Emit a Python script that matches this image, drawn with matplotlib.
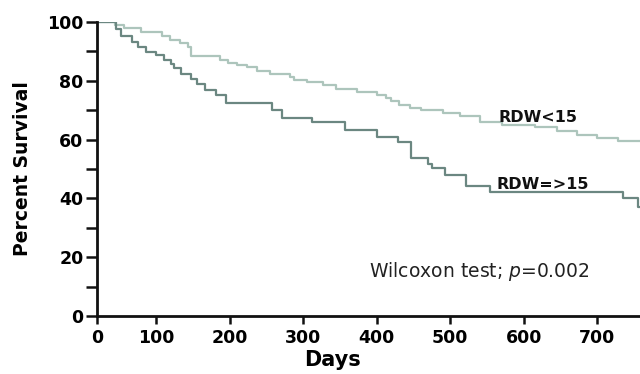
import matplotlib
matplotlib.use("Agg")
import matplotlib.pyplot as plt

# Kaplan-Meier steps (days, percent surviving after the step)
low_days = [0, 44, 56, 80, 108, 119, 133, 144, 148, 187, 198, 210, 223, 237, 255,
            282, 287, 305, 327, 345, 373, 400, 412, 420, 430, 445, 460, 490, 513,
            540, 570, 615, 645, 673, 700, 728, 758]
low_surv = [100, 99, 98, 96.5, 95.2, 94, 92.8, 91.6, 88.4, 87.1, 86.2, 85.4, 84.6,
            83.4, 82.5, 81.4, 80.3, 79.7, 78.6, 77.4, 76.3, 75.2, 74.0, 73.0, 71.8,
            70.8, 70, 69.2, 68, 66.1, 65, 64.4, 62.9, 61.6, 60.4, 59.6, 59.6]

high_days = [0, 46, 52, 67, 75, 86, 100, 111, 120, 124, 134, 147, 156, 167, 181,
             195, 257, 271, 312, 357, 400, 429, 447, 470, 475, 493, 522, 554, 735,
             755, 758]
high_surv = [100, 97.8, 95.1, 93.3, 91.6, 89.9, 88.8, 87.1, 85.7, 84.3, 82.5, 80.8,
             79.1, 76.8, 75.1, 72.5, 70, 67.2, 66.1, 63.3, 60.8, 59.3, 53.6, 51.7,
             50.2, 48, 44.2, 42.3, 40, 37, 37]

x_ticks = [100, 200, 300, 400, 500, 600, 700]
y_ticks = [0, 20, 40, 60, 80, 100]

fig = plt.figure(figsize=(6.4, 3.74), dpi=100)
ax = fig.add_axes([0.152, 0.155, 0.848, 0.786])

ax.step(low_days, low_surv, where="post", color="#adc5bc", lw=1.6)
ax.step(high_days, high_surv, where="post", color="#6b8781", lw=1.6)

# axis starts a little past day 0 in the original, but is labelled 0
x_start = 20
ax.set_xlim(x_start, 758)
ax.set_ylim(0, 100)
ax.set_xticks([x_start] + x_ticks)
ax.set_xticklabels(["0"] + [str(t) for t in x_ticks])
ax.set_yticks(y_ticks)
ax.set_yticks([10, 30, 50, 70, 90], minor=True)

for s in ["top", "right"]:
    ax.spines[s].set_visible(False)
for s in ["left", "bottom"]:
    ax.spines[s].set_linewidth(2.0)
    ax.spines[s].set_color("#111111")

ax.tick_params(axis="y", which="both", length=8, width=1.8, pad=2, color="#111111")
ax.tick_params(axis="x", length=6, width=1.8, pad=3, color="#111111")
for lab in ax.get_xticklabels() + ax.get_yticklabels():
    lab.set_fontweight("bold")
    lab.set_fontsize(12.5)

ax.set_ylabel("Percent Survival", fontsize=13.5, fontweight="bold")
ax.yaxis.set_label_coords(-0.12, 0.5)
ax.set_xlabel("Days", fontsize=15, fontweight="bold")
ax.xaxis.set_label_coords(0.434, -0.115)

ax.text(565, 66, "RDW<15", fontsize=11.5, fontweight="bold", color="#111111")
ax.text(563, 43.2, "RDW=>15", fontsize=11.5, fontweight="bold", color="#111111")
ax.text(390, 13.3, "Wilcoxon test; $\\it{p}$=0.002", fontsize=13.5, color="#222222")

fig.savefig("out.png", dpi=100)
